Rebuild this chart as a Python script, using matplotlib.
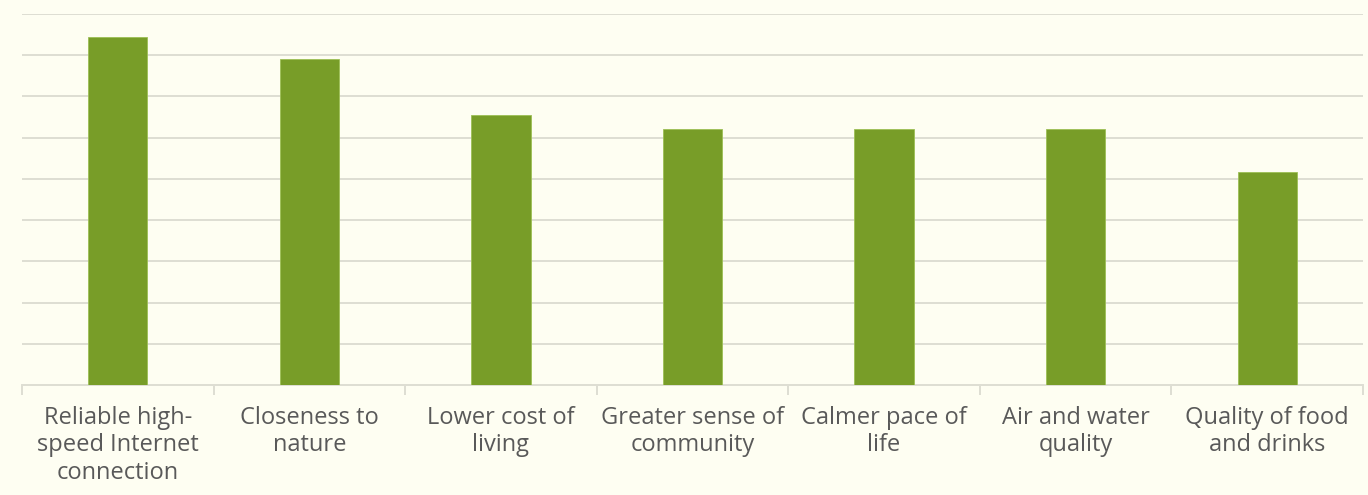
import matplotlib
matplotlib.use("Agg")
import matplotlib.pyplot as plt
import numpy as np

categories = ["Reliable high-\nspeed Internet\nconnection", "Closeness to\nnature", "Lower cost of\nliving",
              "Greater sense of\ncommunity", "Calmer pace of\nlife", "Air and water\nquality",
              "Quality of food\nand drinks"]
values = [42.2, 39.5, 32.8, 31.0, 31.0, 31.0, 25.8]
yticks = [0, 5, 10, 15, 20, 25, 30, 35, 40, 45]

bg = "#fefef2"
grid = "#deded3"
green = "#789d28"

fig = plt.figure(figsize=(13.68, 4.95), dpi=100, facecolor=bg)
ax = fig.add_axes([22/1368, 110/495, (1363-22)/1368, (385-14)/495], facecolor=bg)
x = np.arange(len(categories))
ax.bar(x, values, width=0.31, color=green, edgecolor="#9dbf55", linewidth=0.6, zorder=3)
ax.set_xlim(-0.5, len(categories) - 0.5)
ax.set_ylim(0, 45)
ax.set_yticks(yticks)
ax.yaxis.grid(True, color=grid, linewidth=1.4, zorder=0)
ax.tick_params(axis="y", length=0, labelleft=False)
for s in ["left", "right", "top"]:
    ax.spines[s].set_visible(False)
ax.spines["bottom"].set_color(grid)
ax.spines["bottom"].set_linewidth(1.4)
ax.set_xticks(x)
ax.set_xticklabels(categories, fontsize=17, color="#595959", family="Open Sans", linespacing=1.2)
ax.tick_params(axis="x", which="major", length=0, pad=15)
ax.set_xticks(np.arange(-0.5, len(categories), 1.0), minor=True)
ax.tick_params(axis="x", which="minor", length=7, width=1.4, color=grid)
fig.savefig("out.png", dpi=100, facecolor=bg)
